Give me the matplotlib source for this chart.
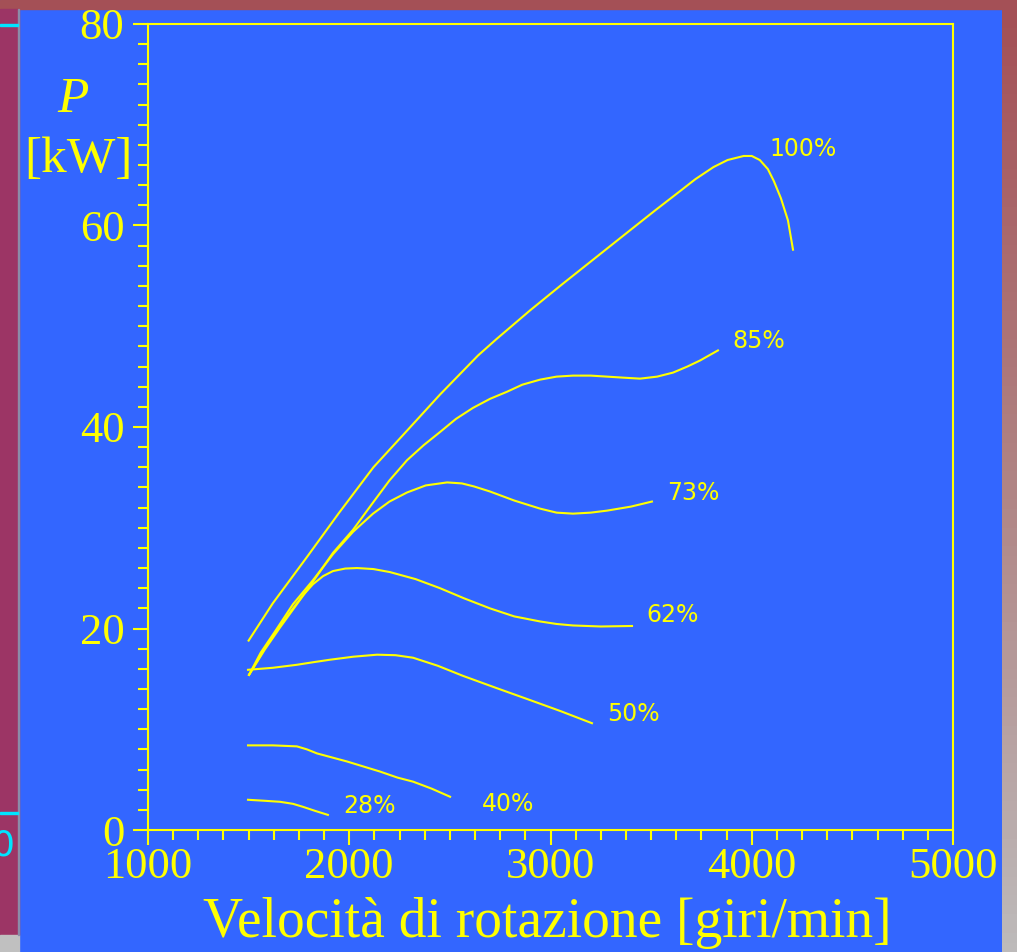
"""
Curve di potenza del motore a diverse aperture della farfalla.
"""
import numpy as np
import matplotlib

matplotlib.use("Agg")
import matplotlib.pyplot as plt
from matplotlib.patches import Rectangle
from matplotlib.ticker import MultipleLocator
from matplotlib.colors import LinearSegmentedColormap

# data: rpm vs power [kW]
rpm_100 = [1500, 1620, 1790, 1950, 2120, 2290, 2450, 2640, 2730, 2900, 3060, 3230, 3400, 3520, 3630,
           3720, 3810, 3880, 3960, 4000, 4040, 4080, 4110, 4145, 4180, 4205]
p_100 = [18.8, 22.5, 27.1, 31.5, 36.0, 39.7, 43.2, 47.1, 48.7, 51.6, 54.2, 56.9, 59.6, 61.5, 63.2,
         64.6, 65.8, 66.5, 66.9, 66.9, 66.5, 65.6, 64.4, 62.7, 60.5, 57.6]

rpm_85 = [1502, 1580, 1656, 1790, 1919, 2019, 2118, 2200, 2287, 2370, 2451, 2530, 2615, 2700, 2784,
          2860, 2948, 3030, 3112, 3200, 3281, 3360, 3445, 3530, 3609, 3680, 3743, 3832]
p_85 = [15.4, 17.9, 20.1, 23.8, 27.5, 29.8, 32.5, 34.7, 36.7, 38.2, 39.5, 40.8, 41.9, 42.8, 43.5,
        44.2, 44.7, 45.0, 45.1, 45.1, 45.0, 44.9, 44.8, 45.0, 45.4, 46.0, 46.6, 47.6]

rpm_73 = [1502, 1560, 1631, 1720, 1820, 1920, 2019, 2118, 2200, 2287, 2380, 2486, 2560, 2620, 2699,
          2820, 2948, 3030, 3112, 3200, 3281, 3400, 3504]
p_73 = [15.4, 17.6, 19.7, 22.4, 24.8, 27.4, 29.6, 31.4, 32.6, 33.5, 34.2, 34.5, 34.4, 34.1, 33.6,
        32.7, 31.9, 31.5, 31.4, 31.5, 31.7, 32.1, 32.6]

rpm_62 = [1502, 1600, 1706, 1770, 1820, 1870, 1919, 1980, 2039, 2120, 2202, 2330, 2451, 2570, 2699,
          2820, 2948, 3030, 3112, 3250, 3405]
p_62 = [15.4, 18.7, 21.6, 23.3, 24.4, 25.2, 25.7, 25.95, 26.0, 25.9, 25.6, 24.9, 24.0, 23.0, 22.0,
        21.2, 20.7, 20.45, 20.3, 20.2, 20.25]

rpm_50 = [1497, 1620, 1740, 1820, 1904, 2020, 2138, 2230, 2317, 2440, 2565, 2730, 2898, 3050, 3206]
p_50 = [15.9, 16.1, 16.4, 16.65, 16.9, 17.2, 17.4, 17.35, 17.1, 16.3, 15.3, 14.1, 12.9, 11.8, 10.6]

rpm_40 = [1497, 1620, 1740, 1790, 1840, 1989, 2153, 2240, 2317, 2410, 2501]
p_40 = [8.4, 8.4, 8.3, 8.0, 7.6, 6.8, 5.8, 5.2, 4.8, 4.1, 3.3]

rpm_28 = [1497, 1580, 1656, 1720, 1770, 1830, 1894]
p_28 = [3.0, 2.9, 2.8, 2.6, 2.3, 1.9, 1.5]

curve_labels = ["100%", "85%", "73%", "62%", "50%", "40%", "28%"]

YELLOW = "#FFFF00"
BLUE = "#3366FF"

fig = plt.figure(figsize=(10.17, 9.52), dpi=100, facecolor=BLUE)
W, H = 1017.0, 952.0

# slide frame around the chart
fig.patches.append(Rectangle((0, 0), 1, 1, transform=fig.transFigure, color=BLUE, zorder=-10))
fig.patches.append(Rectangle((0, 1 - 9 / H), 1, 9 / H, transform=fig.transFigure, color="#A45056", zorder=-5))
fig.patches.append(Rectangle((0, 17 / H), 19 / W, 1 - 26 / H, transform=fig.transFigure, color="#9C3565", zorder=-5))
fig.patches.append(Rectangle((0, 0), 19 / W, 17 / H, transform=fig.transFigure, color="#C0C0C0", zorder=-5))
fig.patches.append(Rectangle((18 / W, 17 / H), 1.2 / W, 1 - 26 / H, transform=fig.transFigure, color="#8C8CA8", zorder=-4))
fig.patches.append(Rectangle((0, 1 - 26 / H), 18 / W, 2.5 / H, transform=fig.transFigure, color="#00E5FF", zorder=-3))
fig.patches.append(Rectangle((0, 1 - 814 / H), 18 / W, 2 / H, transform=fig.transFigure, color="#00E5FF", zorder=-3))
fig.text(3 / W, 1 - 846 / H, "0", color="#00E5FF", fontsize=26, family="DejaVu Sans",
         ha="center", va="center")

edge = fig.add_axes([1002 / W, 0, 15 / W, 1 - 9 / H])
grad = LinearSegmentedColormap.from_list("edge", ["#A45056", "#B08484", "#BDBABA"])
edge.imshow(np.linspace(0, 1, 100).reshape(-1, 1), aspect="auto", cmap=grad)
edge.set_axis_off()

ax = fig.add_axes([148 / W, 1 - 830 / H, 805 / W, 806 / H])
ax.set_facecolor(BLUE)

series = [
    (rpm_100, p_100),
    (rpm_85, p_85),
    (rpm_73, p_73),
    (rpm_62, p_62),
    (rpm_50, p_50),
    (rpm_40, p_40),
    (rpm_28, p_28),
]
for rpm, p in series:
    ax.plot(rpm, p, color=YELLOW, lw=1.5, solid_joinstyle="round")

# curve labels (anchor in data coords)
label_xy = [(4090, 67.6), (3905, 48.5), (3580, 33.4), (3475, 21.3), (3280, 11.5), (2660, 2.6), (1968, 2.4)]
for txt, (x, y) in zip(curve_labels, label_xy):
    ax.text(x, y, txt, color=YELLOW, fontsize=17, family="DejaVu Sans",
            ha="left", va="center")

ax.set_xlim(1000, 5000)
ax.set_ylim(0, 80)
ax.xaxis.set_major_locator(MultipleLocator(1000))
ax.xaxis.set_minor_locator(MultipleLocator(125))
ax.yaxis.set_major_locator(MultipleLocator(20))
ax.yaxis.set_minor_locator(MultipleLocator(2))

for s in ax.spines.values():
    s.set_color(YELLOW)
    s.set_linewidth(1.5)

ax.tick_params(which="both", direction="out", color=YELLOW, width=1.5,
               labelcolor=YELLOW, top=False, right=False)
ax.tick_params(which="major", length=11)
ax.tick_params(which="minor", length=7.2)
ax.tick_params(axis="y", which="major", pad=6)
ax.tick_params(axis="x", which="major", pad=1)
for lab in ax.get_xticklabels() + ax.get_yticklabels():
    lab.set_family("Liberation Serif")
    lab.set_fontsize(32)

fig.text(547 / W, 1 - 923 / H, "Velocità di rotazione [giri/min]", color=YELLOW,
         fontsize=40, family="Liberation Serif", ha="center", va="center")
fig.text(73 / W, 1 - 100 / H, "P", color=YELLOW, fontsize=37, family="Liberation Serif",
         style="italic", ha="center", va="center")
fig.text(78 / W, 1 - 160 / H, "[kW]", color=YELLOW, fontsize=37, family="Liberation Serif",
         ha="center", va="center")

fig.savefig("out.png", dpi=100, facecolor=BLUE)
